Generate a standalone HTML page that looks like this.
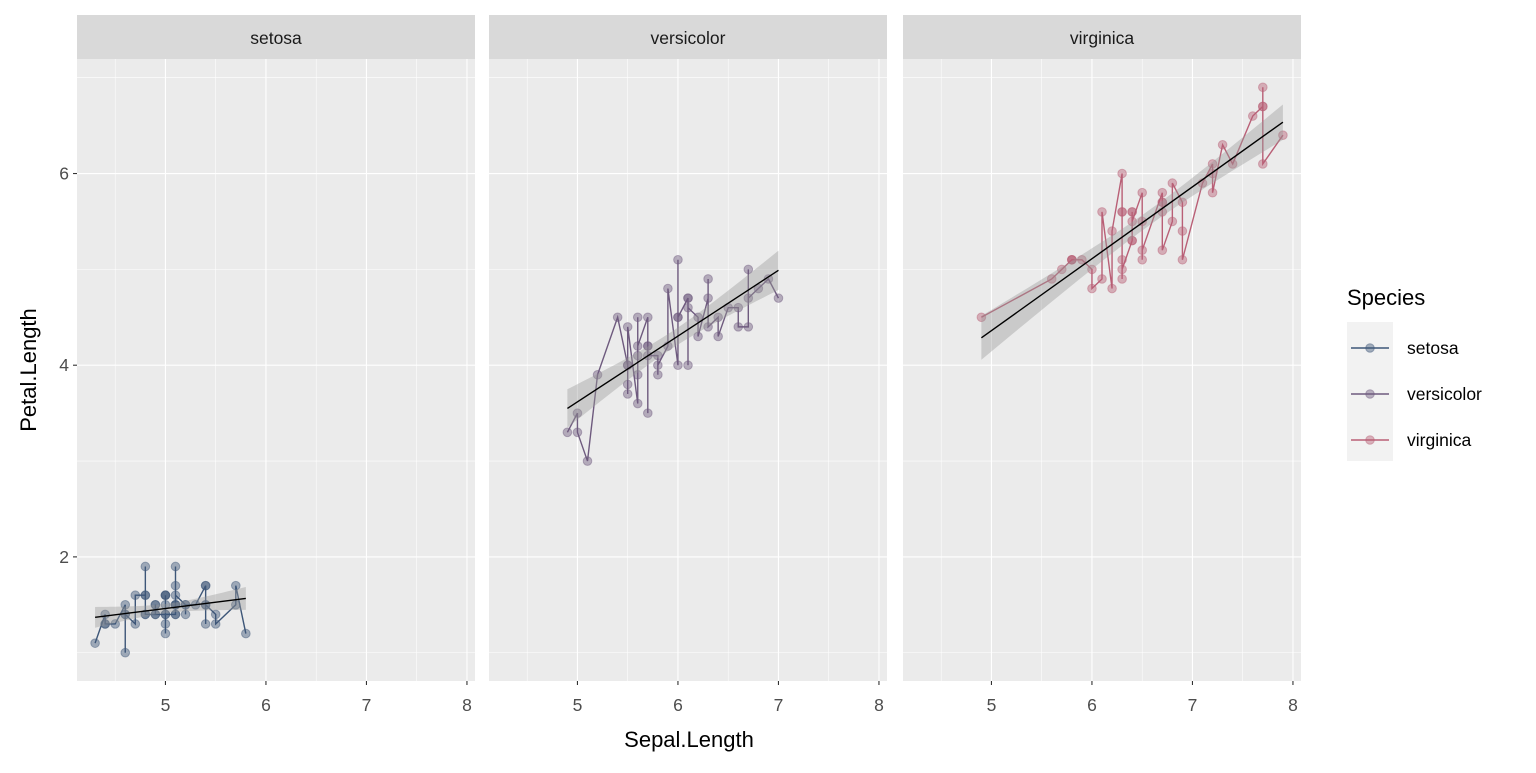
<!DOCTYPE html>
<html><head><meta charset="utf-8"><style>
body{margin:0;background:#fff;width:1536px;height:768px;overflow:hidden;font-family:"Liberation Sans",sans-serif}
</style></head><body>
<svg id="chart" width="1536" height="768" xmlns="http://www.w3.org/2000/svg" font-family="Liberation Sans, sans-serif"></svg>
<script>
const species=["setosa","versicolor","virginica"];
const colors=["#3d5678","#6e5a7e","#b95f76"];
const xTicks=[5,6,7,8];
const yTicks=[2,4,6];
const setosaX=[5.1,4.9,4.7,4.6,5.0,5.4,4.6,5.0,4.4,4.9,5.4,4.8,4.8,4.3,5.8,5.7,5.4,5.1,5.7,5.1,5.4,5.1,4.6,5.1,4.8,5.0,5.0,5.2,5.2,4.7,4.8,5.4,5.2,5.5,4.9,5.0,5.5,4.9,4.4,5.1,5.0,4.5,4.4,5.0,5.1,4.8,5.1,4.6,5.3,5.0];
const setosaY=[1.4,1.4,1.3,1.5,1.4,1.7,1.4,1.5,1.4,1.5,1.5,1.6,1.4,1.1,1.2,1.5,1.3,1.4,1.7,1.5,1.7,1.5,1.0,1.7,1.9,1.6,1.6,1.5,1.4,1.6,1.6,1.5,1.5,1.4,1.5,1.2,1.3,1.4,1.3,1.5,1.3,1.3,1.3,1.6,1.9,1.4,1.6,1.4,1.5,1.4];
const versicolorX=[7.0,6.4,6.9,5.5,6.5,5.7,6.3,4.9,6.6,5.2,5.0,5.9,6.0,6.1,5.6,6.7,5.6,5.8,6.2,5.6,5.9,6.1,6.3,6.1,6.4,6.6,6.8,6.7,6.0,5.7,5.5,5.5,5.8,6.0,5.4,6.0,6.7,6.3,5.6,5.5,5.5,6.1,5.8,5.0,5.6,5.7,5.7,6.2,5.1,5.7];
const versicolorY=[4.7,4.5,4.9,4.0,4.6,4.5,4.7,3.3,4.6,3.9,3.5,4.2,4.0,4.7,3.6,4.4,4.5,4.1,4.5,3.9,4.8,4.0,4.9,4.7,4.3,4.4,4.8,5.0,4.5,3.5,3.8,3.7,3.9,5.1,4.5,4.5,4.7,4.4,4.1,4.0,4.4,4.6,4.0,3.3,4.2,4.2,4.2,4.3,3.0,4.1];
const virginicaX=[6.3,5.8,7.1,6.3,6.5,7.6,4.9,7.3,6.7,7.2,6.5,6.4,6.8,5.7,5.8,6.4,6.5,7.7,7.7,6.0,6.9,5.6,7.7,6.3,6.7,7.2,6.2,6.1,6.4,7.2,7.4,7.9,6.4,6.3,6.1,7.7,6.3,6.4,6.0,6.9,6.7,6.9,5.8,6.8,6.7,6.7,6.3,6.5,6.2,5.9];
const virginicaY=[6.0,5.1,5.9,5.6,5.8,6.6,4.5,6.3,5.8,6.1,5.1,5.3,5.5,5.0,5.1,5.3,5.5,6.7,6.9,5.0,5.7,4.9,6.7,4.9,5.7,6.0,4.8,4.9,5.6,5.8,6.1,6.4,5.6,5.1,5.6,6.1,5.6,5.5,4.8,5.4,5.6,5.1,5.1,5.9,5.7,5.2,5.0,5.2,5.4,5.1];
const dataX=[setosaX,versicolorX,virginicaX], dataY=[setosaY,versicolorY,virginicaY];

const NS="http://www.w3.org/2000/svg", svg=document.getElementById('chart');
function el(tag,attrs,parent){const e=document.createElementNS(NS,tag);for(const k in attrs)e.setAttribute(k,attrs[k]);(parent||svg).appendChild(e);return e;}
const panelL=[77,489,903], panelW=398, panelT=59, panelB=681;
const xMin=4.12,xMax=8.08,yMin=0.705,yMax=7.195;
function xs(p,v){return panelL[p]+(v-xMin)/(xMax-xMin)*panelW;}
function ys(v){return panelB-(v-yMin)/(yMax-yMin)*(panelB-panelT);}

for(let p=0;p<3;p++){
  const g=el('g',{});
  
  
  const bg=el('rect',{x:panelL[p],y:panelT,width:panelW,height:panelB-panelT,fill:'#EBEBEB'},g);
  
  
  const st=el('rect',{x:panelL[p],y:15,width:panelW,height:44,fill:'#D9D9D9'},g);
  
  
  const stt=el('text',{x:panelL[p]+panelW/2,y:44,'text-anchor':'middle','font-size':'17.5',fill:'#1A1A1A'},g);
  stt.textContent=species[p];
  
  
  // minor grid
  for(let v=4.5;v<8.1;v+=1) el('line',{x1:xs(p,v),x2:xs(p,v),y1:panelT,y2:panelB,stroke:'#fff','stroke-width':0.55},g);
  for(let v=1;v<7.2;v+=2) el('line',{x1:panelL[p],x2:panelL[p]+panelW,y1:ys(v),y2:ys(v),stroke:'#fff','stroke-width':0.55},g);
  xTicks.forEach(v=>{el('line',{x1:xs(p,v),x2:xs(p,v),y1:panelT,y2:panelB,stroke:'#fff','stroke-width':1.1},g);
    el('line',{x1:xs(p,v),x2:xs(p,v),y1:panelB,y2:panelB+4,stroke:'#333','stroke-width':1.1},g);
    const t=el('text',{x:xs(p,v),y:711,'text-anchor':'middle','font-size':'17.5',fill:'#4D4D4D'},g);t.textContent=v;
    
    });
  yTicks.forEach(v=>el('line',{x1:panelL[p],x2:panelL[p]+panelW,y1:ys(v),y2:ys(v),stroke:'#fff','stroke-width':1.1},g));
  // regression
  const X=dataX[p],Y=dataY[p],n=X.length;
  const mx=X.reduce((a,b)=>a+b)/n,my=Y.reduce((a,b)=>a+b)/n;
  let sxx=0,sxy=0;X.forEach((x,i)=>{sxx+=(x-mx)**2;sxy+=(x-mx)*(Y[i]-my);});
  const b=sxy/sxx,a=my-b*mx;let sse=0;X.forEach((x,i)=>{sse+=(Y[i]-a-b*x)**2;});
  const s=Math.sqrt(sse/(n-2)),t=2.0106;
  const x0=Math.min(...X),x1=Math.max(...X);
  const up=[],lo=[];
  for(let k=0;k<=40;k++){const x=x0+(x1-x0)*k/40,f=a+b*x,se=s*Math.sqrt(1/n+(x-mx)**2/sxx);
    up.push(xs(p,x)+','+ys(f+t*se));lo.unshift(xs(p,x)+','+ys(f-t*se));}
  // sorted line
  const idx=X.map((x,i)=>i).sort((i,j)=>X[i]-X[j]||i-j);
  const path=el('polyline',{points:idx.map(i=>xs(p,X[i])+','+ys(Y[i])).join(' '),fill:'none',stroke:colors[p],'stroke-width':1.4},g);
  
  
  idx.forEach(i=>{const c=el('circle',{cx:xs(p,X[i]),cy:ys(Y[i]),r:4.3,fill:colors[p],'fill-opacity':0.45,stroke:colors[p],'stroke-opacity':0.45,'stroke-width':1},g);
    
    });
  const band=el('polygon',{points:up.concat(lo).join(' '),fill:'#999','fill-opacity':0.4},g);
  
  
  const fit=el('line',{x1:xs(p,x0),y1:ys(a+b*x0),x2:xs(p,x1),y2:ys(a+b*x1),stroke:'#000','stroke-width':1.4},g);
  
  
}
yTicks.forEach(v=>{el('line',{x1:73,x2:77,y1:ys(v),y2:ys(v),stroke:'#333','stroke-width':1.1});
  const t=el('text',{x:69,y:ys(v)+6,'text-anchor':'end','font-size':'17.5',fill:'#4D4D4D'});t.textContent=v;
  
  });
const xt=el('text',{x:689,y:747,'text-anchor':'middle','font-size':'22',fill:'#000'});xt.textContent='Sepal.Length';


const yt=el('text',{x:36,y:370,'text-anchor':'middle','font-size':'22',fill:'#000',transform:'rotate(-90 36 370)'});yt.textContent='Petal.Length';


const lg=el('g',{});


const lt=el('text',{x:1347,y:305,'font-size':'22',fill:'#000'},lg);lt.textContent='Species';


el('rect',{x:1347,y:322,width:46,height:139,fill:'#F2F2F2'},lg);
species.forEach((sp,i)=>{const y=348+i*46;
  const e=el('g',{},lg);
  
  
  el('line',{x1:1351,x2:1389,y1:y,y2:y,stroke:colors[i],'stroke-width':1.4},e);
  el('circle',{cx:1370,cy:y,r:4.3,fill:colors[i],'fill-opacity':0.45,stroke:colors[i],'stroke-opacity':0.45},e);
  const t=el('text',{x:1407,y:y+6,'font-size':'17.5',fill:'#000'},e);t.textContent=sp;});
</script>
</body></html>
